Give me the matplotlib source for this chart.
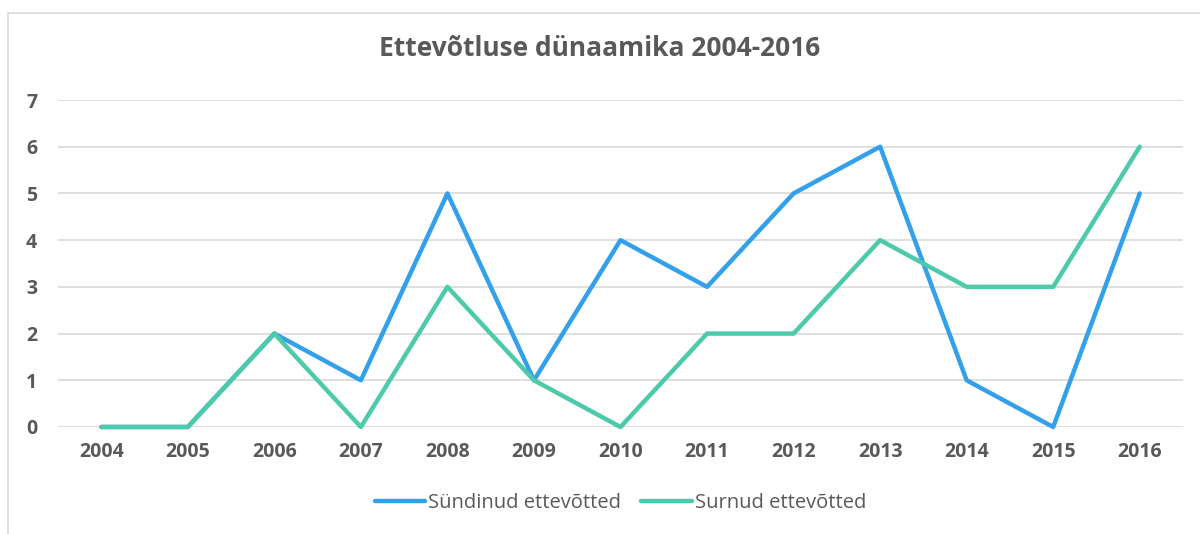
import matplotlib.pyplot as plt
from matplotlib.patches import Rectangle

years = ['2004', '2005', '2006', '2007', '2008', '2009', '2010',
         '2011', '2012', '2013', '2014', '2015', '2016']
syndinud = [0, 0, 2, 1, 5, 1, 4, 3, 5, 6, 1, 0, 5]
surnud = [0, 0, 2, 0, 3, 1, 0, 2, 2, 4, 3, 3, 6]

blue = '#33a0eb'
green = '#4ccaa9'
grey = '#595959'

plt.rcParams['font.family'] = ['Open Sans', 'DejaVu Sans']

fig = plt.figure(figsize=(12, 5.34), dpi=100)
# outer chart frame
fig.patches.append(Rectangle((8 / 1200, -0.01), 1.2, 1 - 13 / 534 + 0.01,
                             transform=fig.transFigure, fill=False,
                             edgecolor='#d9d9d9', lw=1.2))

ax = fig.add_axes([58 / 1200, 1 - 427 / 534, 1125 / 1200, 327 / 534])
x = range(len(years))
ax.plot(x, syndinud, color=blue, lw=3.2, solid_capstyle='round',
        solid_joinstyle='round', label='Sündinud ettevõtted', zorder=3,
        clip_on=False)
ax.plot(x, surnud, color=green, lw=3.2, solid_capstyle='round',
        solid_joinstyle='round', label='Surnud ettevõtted', zorder=3,
        clip_on=False)

ax.set_xlim(-0.5, len(years) - 0.5)
ax.set_ylim(0, 7)
ax.set_yticks(range(8))
ax.set_xticks(list(x))
ax.set_xticklabels(years)
ax.grid(axis='y', color='#d9d9d9', lw=1.2)
ax.set_axisbelow(True)
for s in ax.spines.values():
    s.set_visible(False)
ax.tick_params(length=0, labelsize=14, labelcolor=grey)
ax.tick_params(axis='x', pad=11)
ax.tick_params(axis='y', pad=15)
for lab in ax.get_xticklabels() + ax.get_yticklabels():
    lab.set_fontweight('bold')

fig.text(0.5, 1 - 48 / 534, 'Ettevõtluse dünaamika 2004-2016', ha='center',
         va='center', fontsize=19, fontweight='bold', color=grey)

leg = ax.legend(loc='center', bbox_to_anchor=(0.5, (427 - 503) / 327),
                ncol=2, frameon=False, fontsize=14.5, handlelength=2.5,
                handletextpad=0.15, columnspacing=1.0)
for t in leg.get_texts():
    t.set_color(grey)

fig.savefig('out.png', dpi=100)
